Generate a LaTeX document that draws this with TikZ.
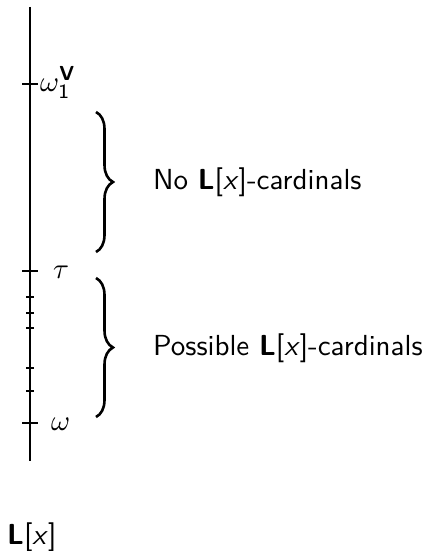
\documentclass[tikz,border=0pt]{standalone}
\usepackage{graphicx}
\usepackage{amsmath}
\usetikzlibrary{calc,decorations.pathreplacing}
% text set at 10pt and enlarged as a whole
\newcommand{\lbltext}[1]{\scalebox{2.9}{\sffamily #1}}
\begin{document}
\begin{tikzpicture}[x=1pt,y=-1pt,
  axis/.style={line width=2pt},
  bigtick/.style={line width=2pt},
  smalltick/.style={line width=1.2pt},
  lbl/.style={inner sep=0pt,anchor=base west},
  bracepath/.style={decorate,decoration={brace,amplitude=17pt},line width=2.6pt}]
\useasboundingbox (0,0) rectangle (426,551);
% the universe L[x] as a vertical line
\coordinate (top) at (30,7);
\coordinate (bot) at (30,461);
\draw[axis] (top) -- (bot);
% marked ordinals
\coordinate (w1) at (30,84);
\coordinate (tau) at (30,271);
\coordinate (om) at (30,423);
\foreach \p in {w1,tau,om}
  \draw[bigtick] ($(\p)+(-8,0)$) -- ($(\p)+(8,0)$);
\foreach \y in {297,313,328,368,391}
  \draw[smalltick] (26,\y) -- (34,\y);
% labels of the marks
\node[lbl] (lw1) at (40,91) {\lbltext{$\omega_{\text{1}}^{\textbf{V}}$}};
\node[lbl] (ltau) at (53,278) {\lbltext{$\tau$}};
\node[lbl] (lom) at (51,430) {\lbltext{$\omega$}};
% braces with their descriptions
\coordinate (b1a) at (96,112);
\coordinate (b1b) at (96,252);
\coordinate (b2a) at (96,278);
\coordinate (b2b) at (96,417);
\draw[bracepath] (b1a) -- (b1b);
\draw[bracepath] (b2a) -- (b2b);
\node[lbl] (t1) at (153,189) {\lbltext{No \textbf{L}[\textit{x}]-cardinals}};
\node[lbl] (t2) at (153,355) {\lbltext{Possible \textbf{L}[\textit{x}]-cardinals}};
% name of the model
\node[lbl] (model) at (7,544) {\lbltext{\textbf{L}[\textit{x}]}};
\end{tikzpicture}
\end{document}
